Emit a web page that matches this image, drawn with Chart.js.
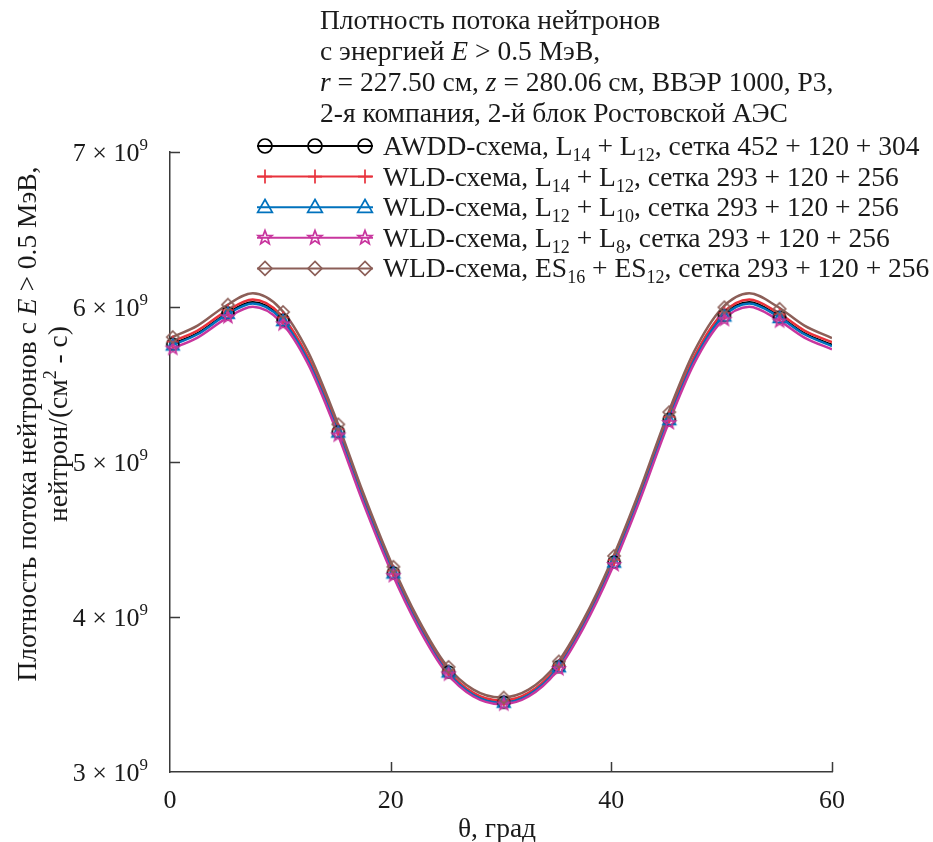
<!DOCTYPE html>
<html><head><meta charset="utf-8">
<script src="https://cdn.jsdelivr.net/npm/chart.js@4/dist/chart.umd.min.js"></script>
<style>html,body{margin:0;padding:0;background:#fff;}#wrap{width:933px;height:842px;position:relative}</style>
</head><body><div id="wrap"><canvas id="c" width="933" height="842"></canvas></div>
<script>
// ---- data (flux in units of 10^9 нейтрон/(см^2·с)) ----
const thetaLine = [0,2.5,5,7.5,10,12.5,15,17.5,20,22.5,25,27.5,30,32.5,35,37.5,40,42.5,45,47.5,50,52.5,55,57.5,60];
const awddLine  = [5.755,5.830,5.950,6.030,5.935,5.660,5.240,4.760,4.320,3.950,3.660,3.500,3.450,3.500,3.660,3.950,4.320,4.760,5.240,5.660,5.935,6.030,5.950,5.830,5.755];
const wldL14Line= [5.773,5.848,5.968,6.048,5.953,5.677,5.256,4.774,4.333,3.961,3.671,3.510,3.460,3.510,3.671,3.961,4.333,4.774,5.256,5.677,5.953,6.048,5.968,5.848,5.773];
const wldL10Line= [5.748,5.824,5.944,6.023,5.929,5.654,5.235,4.755,4.316,3.946,3.656,3.497,3.447,3.497,3.656,3.946,4.316,4.755,5.235,5.654,5.929,6.023,5.944,5.824,5.748];
const wldL8Line = [5.727,5.803,5.922,6.002,5.908,5.635,5.217,4.738,4.301,3.933,3.645,3.487,3.437,3.487,3.645,3.933,4.301,4.738,5.217,5.635,5.908,6.002,5.922,5.803,5.727];
const wldESLine = [5.800,5.880,6.005,6.088,5.990,5.712,5.288,4.803,4.360,3.986,3.693,3.531,3.480,3.531,3.693,3.986,4.360,4.803,5.288,5.712,5.990,6.088,6.005,5.880,5.800];

const thetaMarks = [0.25,5.25,10.25,15.25,20.25,25.25,30.25,35.25,40.25,45.25,50.25,55.25];
const awddMarks   = [5.760,5.962,5.915,5.195,4.285,3.645,3.450,3.680,4.355,5.275,5.945,5.935];
const wldL14Marks = [5.777,5.980,5.933,5.211,4.298,3.656,3.460,3.691,4.368,5.291,5.963,5.953];
const wldL10Marks = [5.752,5.956,5.909,5.190,4.281,3.642,3.447,3.676,4.351,5.270,5.939,5.929];
const wldL8Marks  = [5.732,5.935,5.889,5.172,4.266,3.630,3.437,3.664,4.336,5.252,5.918,5.908];
const wldESMarks  = [5.806,6.015,5.968,5.243,4.324,3.678,3.480,3.713,4.394,5.322,5.998,5.988];

const xTicks = [0,20,40,60];
const yTicks = [3,4,5,6,7];
const yExp = '9';

const titleLines = [
  [['Плотность потока нейтронов','']],
  [['с энергией ',''],['E','i'],[' > 0.5 МэВ,','']],
  [['r','i'],[' = 227.50 см, ',''],['z','i'],[' = 280.06 см, ВВЭР 1000, Р3,','']],
  [['2-я компания, 2-й блок Ростовской АЭС','']]
];
const legendLabels = [
  [['AWDD-схема, L',''],['14','sub'],[' + L',''],['12','sub'],[', сетка 452 + 120 + 304','']],
  [['WLD-схема, L',''],['14','sub'],[' + L',''],['12','sub'],[', сетка 293 + 120 + 256','']],
  [['WLD-схема, L',''],['12','sub'],[' + L',''],['10','sub'],[', сетка 293 + 120 + 256','']],
  [['WLD-схема, L',''],['12','sub'],[' + L',''],['8','sub'],[', сетка 293 + 120 + 256','']],
  [['WLD-схема, ES',''],['16','sub'],[' + ES',''],['12','sub'],[', сетка 293 + 120 + 256','']]
];
const xTitle = [['θ, град','']];
const yTitle1 = [['Плотность потока нейтронов с ',''],['E','i'],[' > 0.5 МэВ,','']];
const yTitle2 = [['нейтрон/(см',''],['2','sup'],[' - с)','']];

// ---- styles ----
const FONT = '"Liberation Serif", "Times New Roman", serif';
let FS = 27.5, FSS = 18;
const colors = ['#000000','#e8323c','#0072bd','#c8369e','#8c5f58'];
const styles = ['circle','cross','triangle','star','diamond'];

function starPath(ctx,x,y,R){
  const r=R*0.42; ctx.beginPath();
  for(let k=0;k<10;k++){const a=-Math.PI/2+k*Math.PI/5; const rr=k%2?r:R; const px=x+rr*Math.cos(a), py=y+rr*Math.sin(a); k?ctx.lineTo(px,py):ctx.moveTo(px,py);}
  ctx.closePath();
}
function drawMarker(ctx,style,x,y,r,color){
  ctx.save(); ctx.strokeStyle=color; ctx.lineWidth=1.7; ctx.beginPath();
  if(style==='circle'){ctx.arc(x,y,r,0,Math.PI*2);}
  else if(style==='cross'){ctx.moveTo(x,y-r);ctx.lineTo(x,y+r);ctx.moveTo(x-r,y);ctx.lineTo(x+r,y);}
  else if(style==='triangle'){ctx.moveTo(x,y-r*1.1);ctx.lineTo(x+r*1.05,y+r*0.75);ctx.lineTo(x-r*1.05,y+r*0.75);ctx.closePath();}
  else if(style==='diamond'){ctx.moveTo(x,y-r);ctx.lineTo(x+r,y);ctx.lineTo(x,y+r);ctx.lineTo(x-r,y);ctx.closePath();}
  else if(style==='star'){starPath(ctx,x,y,r*1.05);}
  ctx.stroke(); ctx.restore();
}
function markerCanvas(style,color,r){
  const s=Math.ceil(r*2+6); const c=document.createElement('canvas'); c.width=s; c.height=s;
  drawMarker(c.getContext('2d'),style,s/2,s/2,r,color); return c;
}

function segFont(st){ return (st==='i'?'italic ':'')+((st==='sub'||st==='sup')?FSS:FS)+'px '+FONT; }
function richWidth(ctx,segs){ let w=0; for(const [t,st] of segs){ctx.font=segFont(st); w+=ctx.measureText(t).width;} return w; }
function drawRich(ctx,segs,x,y,align){
  let w=richWidth(ctx,segs); let cx = align==='center'?x-w/2:(align==='right'?x-w:x);
  ctx.textBaseline='alphabetic'; ctx.textAlign='left';
  for(const [t,st] of segs){
    ctx.font=segFont(st);
    const dy = st==='sub'?6:(st==='sup'?-11:0);
    ctx.fillText(t,cx,y+dy); cx+=ctx.measureText(t).width;
  }
}

const textPlugin = {
  id:'textPlugin',
  afterDraw(chart){
    const ctx=chart.ctx, xs=chart.scales.x, ys=chart.scales.y, a=chart.chartArea;
    ctx.save(); ctx.fillStyle='#1a1a1a';
    // inward ticks
    ctx.strokeStyle='#3a3a3a'; ctx.lineWidth=1.5; ctx.beginPath();
    for(const v of xTicks){const px=Math.round(xs.getPixelForValue(v))+0.5; if(v===xTicks[0]) continue; ctx.moveTo(px,a.bottom);ctx.lineTo(px,a.bottom-10);}
    for(const v of yTicks){const py=Math.round(ys.getPixelForValue(v))+0.5; if(v===yTicks[0]) continue; ctx.moveTo(a.left,py);ctx.lineTo(a.left+10,py);}
    ctx.stroke();
    // tick labels
    FS=26; FSS=17;
    for(const v of xTicks){ drawRich(ctx,[[String(v),'']],xs.getPixelForValue(v),808,'center'); }
    for(const v of yTicks){ drawRich(ctx,[[v+' × 10',''],[yExp,'sup']],148,ys.getPixelForValue(v)+9,'right'); }
    FS=27.5; FSS=18;
    // axis titles
    drawRich(ctx,xTitle,(a.left+a.right)/2-4,837,'center');
    ctx.save(); ctx.translate(36,424); ctx.rotate(-Math.PI/2); drawRich(ctx,yTitle1,0,0,'center'); ctx.restore();
    ctx.save(); ctx.translate(67,424); ctx.rotate(-Math.PI/2); drawRich(ctx,yTitle2,0,0,'center'); ctx.restore();
    // title
    titleLines.forEach((segs,i)=>drawRich(ctx,segs,320,29+i*31,'left'));
    // legend
    legendLabels.forEach((segs,i)=>{
      const cy=146+i*30.6;
      ctx.save(); ctx.strokeStyle=colors[i]; ctx.lineWidth=2; ctx.beginPath(); ctx.moveTo(257,cy); ctx.lineTo(373,cy); ctx.stroke(); ctx.restore();
      for(const mx of [265,315,365]) drawMarker(ctx,styles[i],mx,cy,7,colors[i]);
      ctx.fillStyle='#1a1a1a'; drawRich(ctx,segs,383,cy+9,'left');
    });
    ctx.restore();
  }
};

const lineSets=[awddLine,wldL14Line,wldL10Line,wldL8Line,wldESLine];
const markSets=[awddMarks,wldL14Marks,wldL10Marks,wldL8Marks,wldESMarks];
const lineOrder=[5,4,3,2,1];
const datasets=[];
lineSets.forEach((vals,i)=>datasets.push({
  data: thetaLine.map((x,k)=>({x, y: vals[k]})),
  borderColor: colors[i], borderWidth: 2.5, pointRadius: 0, cubicInterpolationMode:'monotone', fill:false, order: lineOrder[i]
}));
markSets.forEach((vals,i)=>datasets.push({
  data: thetaMarks.map((x,k)=>({x, y: vals[k]})),
  showLine:false, pointStyle: markerCanvas(styles[i],colors[i],6), pointRadius:6, borderColor: colors[i], backgroundColor:'transparent', clip:false, order: lineOrder[i]-10
}));

new Chart(document.getElementById('c'),{
  type:'line',
  data:{datasets},
  options:{
    responsive:false, animation:false, devicePixelRatio:1,
    layout:{padding:{left:170,top:152,right:101,bottom:70}},
    plugins:{legend:{display:false}, tooltip:{enabled:false}, title:{display:false}},
    scales:{
      x:{type:'linear',min:0,max:60, ticks:{display:false}, grid:{display:false, drawTicks:false}, border:{display:true,color:'#3a3a3a',width:1.5},
         afterFit(s){s.height=0;}},
      y:{type:'linear',min:3,max:7, ticks:{display:false}, grid:{display:false, drawTicks:false}, border:{display:true,color:'#3a3a3a',width:1.5},
         afterFit(s){s.width=0;}}
    }
  },
  plugins:[textPlugin]
});
</script></body></html>
